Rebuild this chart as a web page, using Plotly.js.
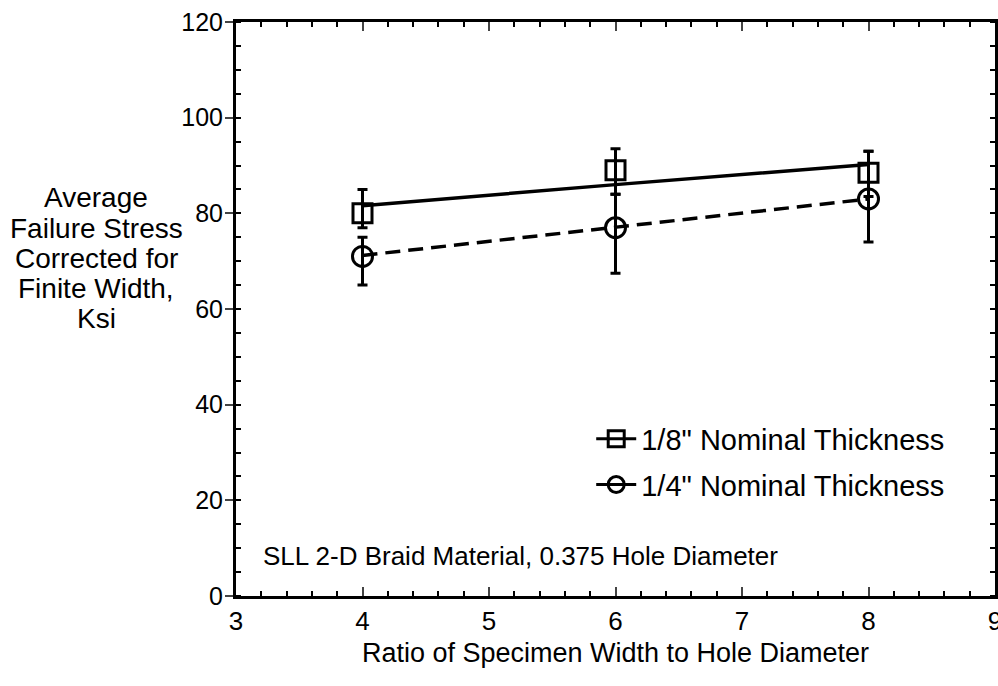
<!DOCTYPE html>
<html><head><meta charset="utf-8">
<script src="https://cdn.plot.ly/plotly-3.0.1.min.js"></script>
<style>html,body{margin:0;padding:0;background:#fff}#chart{width:998px;height:686px}</style>
</head><body><div id="chart"></div>
<script>
const ratio = [4, 6, 8];
const eighthMean = [80, 89, 88.5];
const eighthErrPlus = [5, 4.5, 4.5];
const eighthErrMinus = [3, 5, 5];
const quarterMean = [71, 77, 83];
const quarterErrPlus = [4, 7, 10];
const quarterErrMinus = [6, 9.5, 9];
const eighthFit = [81.6, 86, 90.2];
const quarterFit = [71.2, 77.1, 83];
const seriesNames = ['1/8" Nominal Thickness', '1/4" Nominal Thickness'];
const yTitleLines = ['Average', 'Failure Stress', 'Corrected for', 'Finite Width,', 'Ksi'];

const F = 'Liberation Sans, Arial, sans-serif';
const traces = [
  {x: ratio, y: eighthFit, mode: 'lines', line: {color: '#000', width: 3.5}, showlegend: false, hoverinfo: 'skip'},
  {x: ratio, y: quarterFit, mode: 'lines', line: {color: '#000', width: 3.5, dash: '15px,8px'}, showlegend: false, hoverinfo: 'skip'},
  {x: ratio, y: eighthMean, mode: 'markers', showlegend: false,
   marker: {symbol: 'square-open', size: 19, color: '#000', line: {width: 3}},
   error_y: {type: 'data', symmetric: false, array: eighthErrPlus, arrayminus: eighthErrMinus, color: '#000', thickness: 3, width: 5}},
  {x: ratio, y: quarterMean, mode: 'markers', showlegend: false,
   marker: {symbol: 'circle-open', size: 20, color: '#000', line: {width: 3}},
   error_y: {type: 'data', symmetric: false, array: quarterErrPlus, arrayminus: quarterErrMinus, color: '#000', thickness: 3, width: 5}},
  // legend entries (no data of their own)
  {x: [null], y: [null], name: seriesNames[0], mode: 'lines+markers', legendgroup: 'a',
   line: {color: '#000', width: 3}, marker: {symbol: 'square-open', size: 16, color: '#000', line: {width: 3}}},
  {x: [null], y: [null], name: seriesNames[1], mode: 'lines+markers', legendgroup: 'b',
   line: {color: '#000', width: 3}, marker: {symbol: 'circle-open', size: 16, color: '#000', line: {width: 3}}}
];

const annotations = yTitleLines.map((t, i) => ({
  xref: 'paper', yref: 'paper', x: -0.184, y: 0.6934 - i * 0.0523, xanchor: 'center', yanchor: 'middle',
  showarrow: false, text: t, font: {size: 28, family: F}
}));
annotations.push({xref: 'paper', yref: 'paper', x: 0.033, y: 0.07, xanchor: 'left', yanchor: 'middle', showarrow: false,
  font: {size: 26, family: F}, text: 'SLL 2-D Braid Material, 0.375 Hole Diameter'});

const layout = {
  width: 998, height: 686,
  margin: {l: 236, r: 3, t: 22, b: 90},
  paper_bgcolor: '#fff', plot_bgcolor: '#fff',
  font: {family: F, color: '#000', size: 24},
  showlegend: true,
  legend: {x: 0.468, y: 0.318, xanchor: 'left', yanchor: 'top', bgcolor: 'rgba(0,0,0,0)',
           font: {family: F, size: 29}, tracegroupgap: 5, itemwidth: 40},
  xaxis: {range: [3, 9], tickvals: [3,4,5,6,7,8,9], ticks: 'inside', ticklen: 9, tickwidth: 2,
          showline: true, linewidth: 3, linecolor: '#000', mirror: 'ticks', showgrid: false, zeroline: false,
          minor: {dtick: 0.2, ticks: 'inside', ticklen: 5, tickwidth: 2, tickcolor: '#000', showgrid: false},
          tickfont: {size: 26}, ticklabeloverflow: 'allow',
          title: {text: 'Ratio of Specimen Width to Hole Diameter', font: {size: 27}, standoff: 8}},
  yaxis: {range: [0, 120], dtick: 20, ticks: 'outside', ticklen: 8, tickwidth: 2,
          showline: true, linewidth: 3, linecolor: '#000', mirror: 'ticks', showgrid: false, zeroline: false,
          minor: {dtick: 5, ticks: 'inside', ticklen: 5, tickwidth: 2, tickcolor: '#000', showgrid: false},
          tickfont: {size: 25}, ticklabelstandoff: -3, title: {text: ''}},
  annotations: annotations
};
Plotly.newPlot('chart', traces, layout, {displayModeBar: false, staticPlot: true});
</script></body></html>
